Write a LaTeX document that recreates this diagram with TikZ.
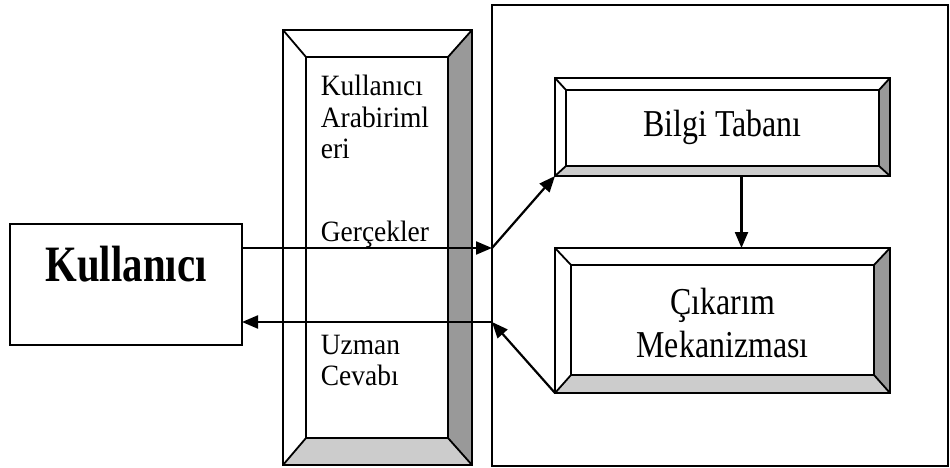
\documentclass[tikz,border=0pt]{standalone}
\usepackage{fontspec}
\setmainfont{Liberation Serif}
\usepackage{graphicx}
\usetikzlibrary{arrows.meta,calc}
\definecolor{darkside}{RGB}{153,153,153}
\definecolor{lightside}{RGB}{204,204,204}
\newcommand\sqz[2]{\scalebox{#1}[1]{#2}}
\newcommand\bevelbox[5]{%
  \coordinate (bNW) at (#1.north west);
  \coordinate (bSE) at (#1.south east);
  \coordinate (bNE) at (#1.north east);
  \coordinate (bSW) at (#1.south west);
  \coordinate (iNW) at ($(bNW)+(#2,#3)$);
  \coordinate (iNE) at ($(bNE)+(-#4,#3)$);
  \coordinate (iSE) at ($(bSE)+(-#4,-#5)$);
  \coordinate (iSW) at ($(bSW)+(#2,-#5)$);
  \fill[darkside] (bNE) -- (bSE) -- (iSE) -- (iNE) -- cycle;
  \fill[lightside] (bSW) -- (bSE) -- (iSE) -- (iSW) -- cycle;
  \draw (iNW) rectangle (iSE);
  \draw (bNW) -- (iNW) (bNE) -- (iNE) (bSE) -- (iSE) (bSW) -- (iSW);
  \draw (bNW) rectangle (bSE);
}
\begin{document}
\begin{tikzpicture}[x=1pt,y=-1pt,line width=1.8pt,
  box/.style={draw, fill=white, outer sep=0pt, inner sep=0pt},
  arr/.style={line width=2.2pt, -{Triangle[length=16pt,width=13pt]}},
  midtext/.style={font=\fontsize{29.5}{31.5}\selectfont, align=left, inner sep=0pt},
  boxtext/.style={font=\fontsize{38}{43}\selectfont, align=center, inner sep=0pt}]
\useasboundingbox[fill=white] (0,0) rectangle (950,468);
% boxes
\node[box, line width=2pt, minimum width=456pt, minimum height=461pt] (sys) at (720,235.5) {};
\node[box, minimum width=232pt, minimum height=121pt,
      font=\fontsize{51}{60}\selectfont\bfseries, text height=35pt, text depth=42pt]
      (kul) at (126,284.5) {\sqz{0.8}{Kullanıcı}};
\node[box, minimum width=189pt, minimum height=435pt] (arb) at (377.5,247.5) {};
\bevelbox{arb}{23}{27}{24}{27}
\node[box, minimum width=335pt, minimum height=98pt] (bilgi) at (722.5,127) {};
\bevelbox{bilgi}{11}{12}{11}{10}
\node[box, minimum width=335pt, minimum height=145pt] (cik) at (722.5,320.5) {};
\bevelbox{cik}{16}{17}{16}{18}
% texts
\node[midtext, anchor=north west] (t1) at (320,74.5) {\sqz{0.93}{Kullanıcı}\\\sqz{0.93}{Arabiriml}\\\sqz{0.93}{eri}};
\node[midtext, anchor=base west] (t2) at (320,241) {\sqz{0.93}{Gerçekler}};
\node[midtext, anchor=north west] (t3) at (320,334) {\sqz{0.93}{Uzman}\\\sqz{0.93}{Cevabı}};
\node[boxtext] (t4) at (bilgi) {\sqz{0.84}{Bilgi Tabanı}};
\node[boxtext, yshift=-2pt] (t5) at (cik) {\sqz{0.84}{Çıkarım}\\\sqz{0.84}{Mekanizması}};
% connectors
\coordinate (g) at (492,248);
\coordinate (u) at (492,322);
\draw[arr] (kul.east |- g) -- (g);
\draw[arr] (g) -- (bilgi.south west);
\draw[arr] (cik.south west) -- (u);
\draw[arr] (u) -- (kul.east |- u);
\draw[arr] ([xshift=19pt]bilgi.south) -- ([xshift=19pt]cik.north);
\end{tikzpicture}
\end{document}
